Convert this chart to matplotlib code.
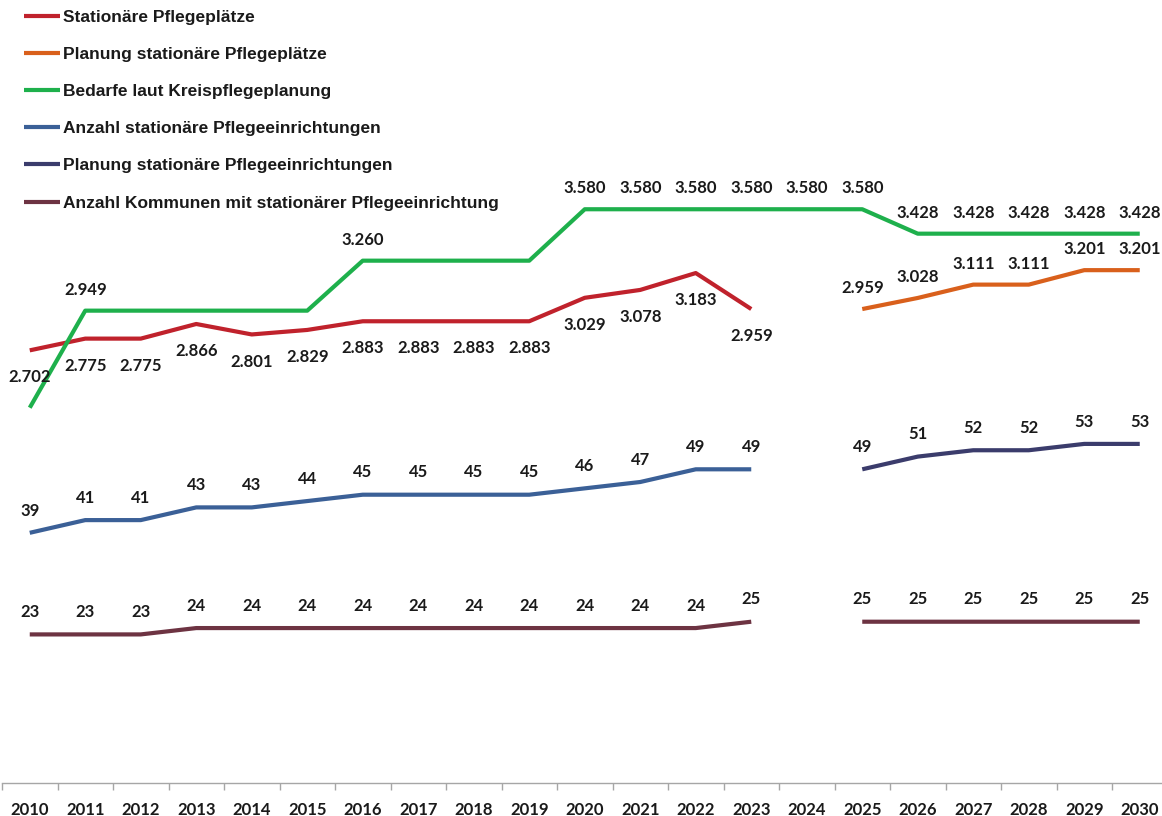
import matplotlib
matplotlib.use("Agg")
import matplotlib.pyplot as plt
import numpy as np

years = list(range(2010, 2031))

# primary axis series (None = no value)
stationaere_plaetze = [2702, 2775, 2775, 2866, 2801, 2829, 2883, 2883, 2883, 2883,
                       3029, 3078, 3183, 2959, None, None, None, None, None, None, None]
planung_plaetze = [None] * 15 + [2959, 3028, 3111, 3111, 3201, 3201]
bedarfe = [2345, 2949, 2949, 2949, 2949, 2949, 3260, 3260, 3260, 3260,
           3580, 3580, 3580, 3580, 3580, 3580, 3428, 3428, 3428, 3428, 3428]
bedarfe_labeled_years = [2011, 2016, 2020, 2021, 2022, 2023, 2024, 2025,
                         2026, 2027, 2028, 2029, 2030]

# secondary axis series
anzahl_einrichtungen = [39, 41, 41, 43, 43, 44, 45, 45, 45, 45, 46, 47, 49, 49,
                        None, None, None, None, None, None, None]
planung_einrichtungen = [None] * 15 + [49, 51, 52, 52, 53, 53]
kommunen = [23, 23, 23, 24, 24, 24, 24, 24, 24, 24, 24, 24, 24, 25,
            None, 25, 25, 25, 25, 25, 25]

names = ["Stationäre Pflegeplätze", "Planung stationäre Pflegeplätze",
         "Bedarfe laut Kreispflegeplanung", "Anzahl stationäre Pflegeeinrichtungen",
         "Planung stationäre Pflegeeinrichtungen",
         "Anzahl Kommunen mit stationärer Pflegeeinrichtung"]
colors = ["#C0222C", "#D9601C", "#1EB04C", "#3B6097", "#3B3C6C", "#6D3342"]

W, H = 1162, 816
fig = plt.figure(figsize=(W / 100, H / 100), dpi=100)
ax_left, ax_right = 2, 2 + 21 * 55.5
ax_bottom, ax_top = 782.7, 0
ax = fig.add_axes([ax_left / W, (H - ax_bottom) / H, (ax_right - ax_left) / W,
                   (ax_bottom - ax_top) / H])
ax2 = ax.twinx()

x = np.arange(len(years))

def arr(v):
    return np.array([np.nan if a is None else a for a in v], dtype=float)

lw = 3.0
label_font = dict(family="Lato", fontweight="bold", fontsize=12, color="#1a1a1a")

def fmt_thousand(v):
    return f"{int(v):,}".replace(",", ".")

l1, = ax.plot(x, arr(stationaere_plaetze), color=colors[0], lw=lw, solid_capstyle="butt")
l2, = ax.plot(x, arr(planung_plaetze), color=colors[1], lw=lw, solid_capstyle="butt")
l3, = ax.plot(x, arr(bedarfe), color=colors[2], lw=lw, solid_capstyle="butt")
l4, = ax2.plot(x, arr(anzahl_einrichtungen), color=colors[3], lw=lw, solid_capstyle="butt")
l5, = ax2.plot(x, arr(planung_einrichtungen), color=colors[4], lw=lw, solid_capstyle="butt")
l6, = ax2.plot(x, arr(kommunen), color=colors[5], lw=lw, solid_capstyle="butt")
lines = [l1, l2, l3, l4, l5, l6]

for i, v in enumerate(stationaere_plaetze):
    if v is not None:
        ax.annotate(fmt_thousand(v), (x[i], v), xytext=(0, -19.5), textcoords="offset points",
                    ha="center", va="center", **label_font)
for i, v in enumerate(planung_plaetze):
    if v is not None:
        ax.annotate(fmt_thousand(v), (x[i], v), xytext=(0, 15), textcoords="offset points",
                    ha="center", va="center", **label_font)
for i, v in enumerate(bedarfe):
    if years[i] in bedarfe_labeled_years:
        ax.annotate(fmt_thousand(v), (x[i], v), xytext=(0, 15), textcoords="offset points",
                    ha="center", va="center", **label_font)
for series in (anzahl_einrichtungen, planung_einrichtungen, kommunen):
    for i, v in enumerate(series):
        if v is not None:
            ax2.annotate(str(v), (x[i], v), xytext=(0, 16), textcoords="offset points",
                         ha="center", va="center", **label_font)

ax.set_xlim(-0.5, len(years) - 0.5)
ax.set_ylim(11.8, 4882)
ax2.set_ylim(-0.35, 122.9)

for a in (ax, ax2):
    for s in ("top", "right", "left"):
        a.spines[s].set_visible(False)
    a.set_yticks([])
ax2.spines["bottom"].set_visible(False)
ax.spines["bottom"].set_color("#A6A6A6")
ax.spines["bottom"].set_linewidth(1.0)

ax.set_xticks(x)
ax.set_xticklabels([str(y) for y in years], fontfamily="Lato", fontweight="bold",
                   fontsize=12, color="#1a1a1a")
ax.tick_params(axis="x", which="major", length=0, pad=14)
ax.set_xticks(np.arange(-0.5, len(years), 1.0), minor=True)
ax.tick_params(axis="x", which="minor", length=5, width=1, color="#A6A6A6")

leg = fig.legend(lines, names, loc="upper left", bbox_to_anchor=(24 / W, 1 - 9.5 / H),
                 frameon=False, prop=dict(family="Liberation Sans", weight="bold", size=12.5),
                 handlelength=2.07, handletextpad=0.17, labelspacing=1.27, borderaxespad=0,
                 borderpad=0)
for t in leg.get_texts():
    t.set_color("#1a1a1a")

fig.savefig("out.png", dpi=100)
